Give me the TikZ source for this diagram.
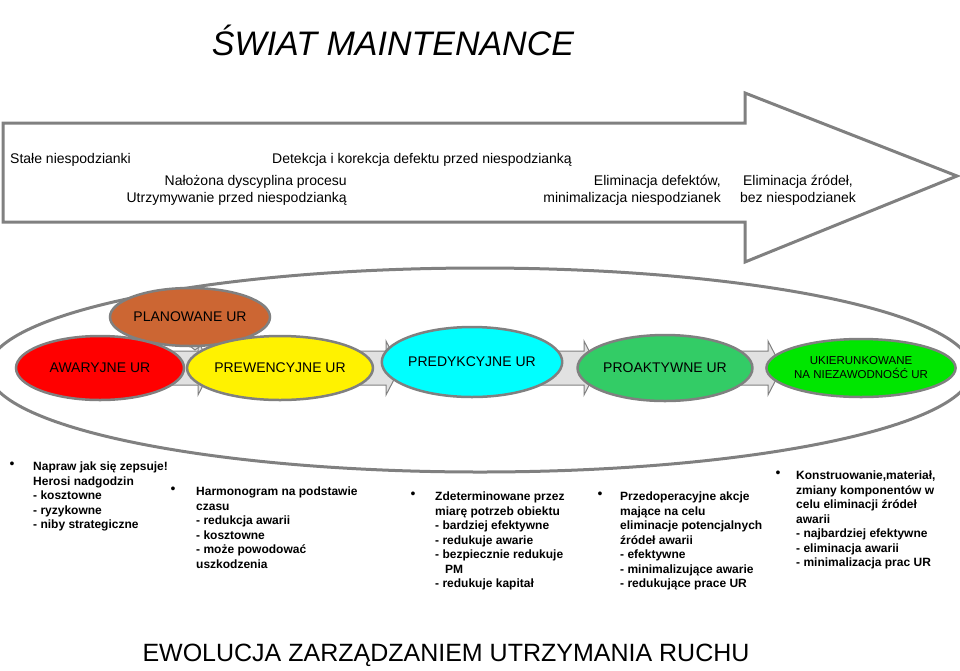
\documentclass[tikz,border=0pt]{standalone}
\usepackage{fontspec}
\setmainfont{Liberation Sans}
\usetikzlibrary{positioning}
\definecolor{rimgray}{RGB}{128,128,128}
\definecolor{flowgray}{RGB}{225,225,225}
\definecolor{planbrown}{RGB}{204,102,51}
\definecolor{predcyan}{RGB}{0,255,255}
\definecolor{proagreen}{RGB}{51,204,102}
\definecolor{limegreen}{RGB}{0,230,0}
\tikzset{
  stage/.style={ellipse,draw=rimgray,line width=2.5pt,font=\fontsize{14}{15}\selectfont,align=center,inner sep=0pt},
  flow/.style={draw=rimgray,fill=flowgray,line width=1pt},
  note/.style={anchor=north west,align=left,inner sep=0pt,font=\bfseries\fontsize{12}{14.5}\selectfont},
  dot/.style={anchor=north,inner sep=0pt,font=\fontsize{14}{14.5}\selectfont},
  lab/.style={inner sep=0pt,font=\fontsize{14}{17}\selectfont}
}
\usetikzlibrary{shapes.geometric}
\begin{document}
\begin{tikzpicture}[x=1pt,y=-1pt]
\useasboundingbox (0,0) rectangle (960,670);
\begin{scope}
\clip (0,0) rectangle (960,670);
% big arrow
\draw[rimgray,line width=3pt,fill=white] (3,123) -- (745,123) -- (745,93) -- (957,176) -- (745,262) -- (745,222) -- (3,222) -- cycle;
% outer ellipse
\draw[rimgray,line width=3pt] (480,370) ellipse [x radius=492, y radius=102];
\end{scope}
\node[font=\itshape\fontsize{34}{40}\selectfont] (title) at (393,40) {ŚWIAT MAINTENANCE};
\node[lab,anchor=west] (t1) at (10,160) {Stałe niespodzianki};
\node[lab,anchor=west] (t2) at (272,160) {Detekcja i korekcja defektu przed niespodzianką};
\node[lab,anchor=north east,align=right] (t3) at (347,175) {Nałożona dyscyplina procesu\\Utrzymywanie przed niespodzianką};
\node[lab,anchor=north east,align=right] (t4) at (721,175) {Eliminacja defektów,\\minimalizacja niespodzianek};
\node[lab,anchor=north,align=center] (t5) at (798,175) {Eliminacja źródeł,\\bez niespodzianek};
% flow arrows
\foreach \xa/\xb in {170/212,348/400,540/598,730/782}{
  \draw[flow] (\xa,351) -- (\xb-14,351) -- (\xb-14,341) -- (\xb,368) -- (\xb-14,395) -- (\xb-14,385) -- (\xa,385) -- cycle;
}
\draw[flow] (177,321) -- (214,321) -- (214,336) -- (195,350) -- (177,336) -- cycle;
% stages
\node[stage,fill=planbrown,minimum width=160pt,minimum height=58pt] (plan) at (190,317) {PLANOWANE UR};
\node[stage,fill=red,minimum width=168pt,minimum height=64pt] (awar) at (100,368) {AWARYJNE UR};
\node[stage,fill=yellow,minimum width=152pt,minimum height=64pt] (prew) at (280,368) {PREWENCYJNE UR};
\node[stage,fill=predcyan,minimum width=155pt,minimum height=70pt] (pred) at (472,362) {PREDYKCYJNE UR};
\node[stage,fill=proagreen,minimum width=150pt,minimum height=66pt] (proa) at (665,368) {PROAKTYWNE UR};
\node[stage,fill=limegreen,minimum width=162pt,minimum height=58pt,font=\fontsize{11.5}{14}\selectfont] (ukie) at (861,368) {UKIERUNKOWANE\\NA NIEZAWODNOŚĆ UR};
% notes
\node[dot] (b1) at (12,462) {•};
\node[note] (n1) at (33,462) {Napraw jak się zepsuje!\\Herosi nadgodzin\\- kosztowne\\- ryzykowne\\- niby strategiczne};
\node[dot] (b2) at (173,487) {•};
\node[note] (n2) at (196,487) {Harmonogram na podstawie\\czasu\\- redukcja awarii\\- kosztowne\\- może powodować\\uszkodzenia};
\node[dot] (b3) at (413,492) {•};
\node[note] (n3) at (435,492) {Zdeterminowane przez\\miarę potrzeb obiektu\\- bardziej efektywne\\- redukuje awarie\\- bezpiecznie redukuje\\\ \ \ PM\\- redukuje kapitał};
\node[dot] (b4) at (600,492) {•};
\node[note] (n4) at (620,492) {Przedoperacyjne akcje\\mające na celu\\eliminacje potencjalnych\\źródeł awarii\\- efektywne\\- minimalizujące awarie\\- redukujące prace UR};
\node[dot] (b5) at (778,471) {•};
\node[note] (n5) at (796,471) {Konstruowanie,materiał,\\zmiany komponentów w\\celu eliminacji źródeł\\awarii\\- najbardziej efektywne\\- eliminacja awarii\\- minimalizacja prac UR};
\node[font=\fontsize{25}{30}\selectfont] (foot) at (446,655) {EWOLUCJA ZARZĄDZANIEM UTRZYMANIA RUCHU};
\end{tikzpicture}
\end{document}
